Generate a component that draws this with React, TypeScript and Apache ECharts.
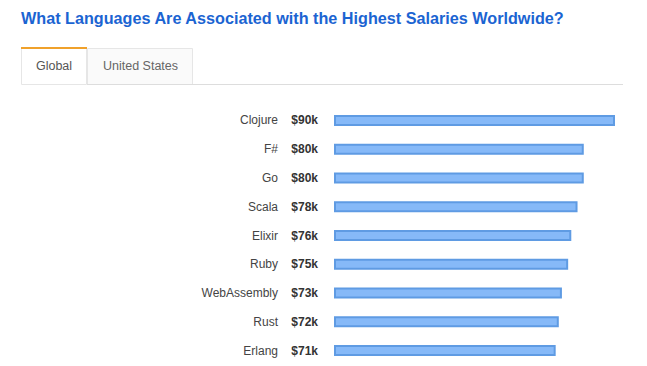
import React, { useEffect, useRef } from "react";
import * as echarts from "echarts";

const titleText = "What Languages Are Associated with the Highest Salaries Worldwide?";
const tabs = ["Global", "United States"];
const languages = ["Clojure", "F#", "Go", "Scala", "Elixir", "Ruby", "WebAssembly", "Rust", "Erlang"];
const salaries = [90, 80, 80, 78, 76, 75, 73, 72, 71];
const salaryLabels = salaries.map((v) => "$" + v + "k");

const FONT = "Liberation Sans, Arial, sans-serif";

export default function App() {
  const ref = useRef<HTMLDivElement>(null);
  useEffect(() => {
    if (!ref.current) return;
    const chart = echarts.init(ref.current, undefined, { renderer: "svg" });
    chart.setOption({
      animation: false,
      backgroundColor: "#ffffff",
      title: {
        text: titleText,
        left: 21,
        top: 10,
        padding: 0,
        textStyle: { fontFamily: FONT, fontSize: 16.2, fontWeight: "bold", color: "#1b64d2" },
      },
      graphic: [
        {
          type: "rect",
          shape: { x: 87.5, y: 48.5, width: 105, height: 36 },
          style: { fill: "#fafafa", stroke: "#e6e6e6", lineWidth: 1 },
        },
        {
          type: "line",
          shape: { x1: 87, y1: 84.5, x2: 623, y2: 84.5 },
          style: { stroke: "#dddddd", lineWidth: 1 },
        },
        {
          type: "rect",
          shape: { x: 21.5, y: 47.5, width: 65, height: 37 },
          style: { fill: "#ffffff", stroke: "#e6e6e6", lineWidth: 1 },
        },
        {
          type: "line",
          shape: { x1: 21, y1: 48, x2: 87, y2: 48 },
          style: { stroke: "#f0a12b", lineWidth: 2 },
        },
        {
          type: "text",
          x: 54,
          y: 66,
          style: {
            text: tabs[0],
            fontFamily: FONT,
            fontSize: 12.5,
            fill: "#555555",
            align: "center",
            verticalAlign: "middle",
          },
        },
        {
          type: "text",
          x: 140.5,
          y: 66,
          style: {
            text: tabs[1],
            fontFamily: FONT,
            fontSize: 12.5,
            fill: "#666666",
            align: "center",
            verticalAlign: "middle",
          },
        },
      ],
      grid: { left: 334, top: 106, width: 281, height: 259 },
      xAxis: {
        type: "value",
        min: 0,
        max: 90,
        show: false,
      },
      yAxis: [
        {
          type: "category",
          data: salaryLabels,
          inverse: true,
          position: "left",
          axisLine: { show: false },
          axisTick: { show: false },
          splitLine: { show: false },
          axisLabel: {
            margin: 16,
            fontFamily: FONT,
            fontSize: 12,
            fontWeight: "bold",
            color: "#333333",
          },
        },
        {
          type: "category",
          data: languages,
          inverse: true,
          position: "left",
          axisLine: { show: false },
          axisTick: { show: false },
          splitLine: { show: false },
          axisLabel: {
            margin: 56,
            fontFamily: FONT,
            fontSize: 12,
            color: "#444444",
          },
        },
      ],
      series: [
        {
          type: "bar",
          data: salaries,
          yAxisIndex: 0,
          barWidth: 11,
          itemStyle: { color: "#86b9f8", borderColor: "#5f9be3", borderWidth: 2 },
          silent: true,
        },
      ],
    });
    return () => chart.dispose();
  }, []);
  return (
    <div
      ref={ref}
      style={{ position: "absolute", left: 0, top: 0, width: 647, height: 366 }}
    />
  );
}
